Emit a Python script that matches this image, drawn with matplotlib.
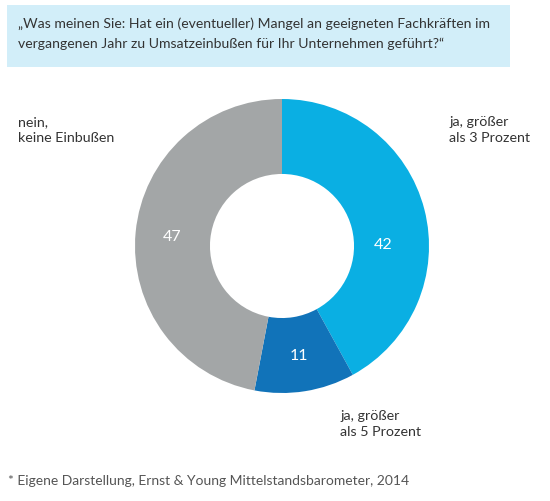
import matplotlib
matplotlib.use('Agg')
import matplotlib.pyplot as plt
from matplotlib.patches import Rectangle
import numpy as np

plt.rcParams['font.family'] = ['Lato', 'DejaVu Sans']

labels = ['ja, größer\nals 3 Prozent', 'ja, größer\nals 5 Prozent', 'nein,\nkeine Einbußen']
values = [42, 11, 47]
colors = ['#0aafe3', '#1173b9', '#a3a6a7']

question = ('„Was meinen Sie: Hat ein (eventueller) Mangel an geeigneten Fachkräften im\n'
            'vergangenen Jahr zu Umsatzeinbußen für Ihr Unternehmen geführt?“')
source = '* Eigene Darstellung, Ernst & Young Mittelstandsbarometer, 2014'

fig = plt.figure(figsize=(5.5, 5.02), dpi=100)

# header box
fig.patches.append(Rectangle((7/550, 1 - 68/502), 503/550, 62/502,
                             transform=fig.transFigure, facecolor='#d2eef9',
                             edgecolor='none', zorder=0))
fig.text(18/550, 1 - 34/502, question, fontsize=10.1, color='#333333',
         va='center', ha='left', linespacing=1.75)

ax = fig.add_axes([135/550, 108/502, 294/550, 294/502])
wedges, texts, autotexts = ax.pie(values, colors=colors, startangle=90, counterclock=False,
                                  radius=1, wedgeprops=dict(width=0.51, edgecolor='none'),
                                  autopct='%d', pctdistance=0.75,
                                  textprops=dict(color='white', fontsize=11.5))
for t, v in zip(autotexts, values):
    t.set_text(str(v))
# the "42" sits a bit lower in the original
ang = np.deg2rad(1)
autotexts[0].set_position((0.69 * np.cos(ang), 0.69 * np.sin(ang)))
ax.set_xlim(-1, 1)
ax.set_ylim(-1, 1)
ax.set_aspect('equal')
ax.axis('off')

fig.text(449/550, 1 - 130/502, labels[0], fontsize=10.3, color='#333333',
         va='center', ha='left', linespacing=1.4)
fig.text(340/550, 1 - 424/502, labels[1], fontsize=10.3, color='#333333',
         va='center', ha='left', linespacing=1.4)
fig.text(18/550, 1 - 130/502, labels[2], fontsize=10.3, color='#333333',
         va='center', ha='left', linespacing=1.4)

fig.text(8/550, 1 - 481/502, source, fontsize=10, color='#555555',
         va='center', ha='left')

fig.savefig('out.png', dpi=100, facecolor='white')
